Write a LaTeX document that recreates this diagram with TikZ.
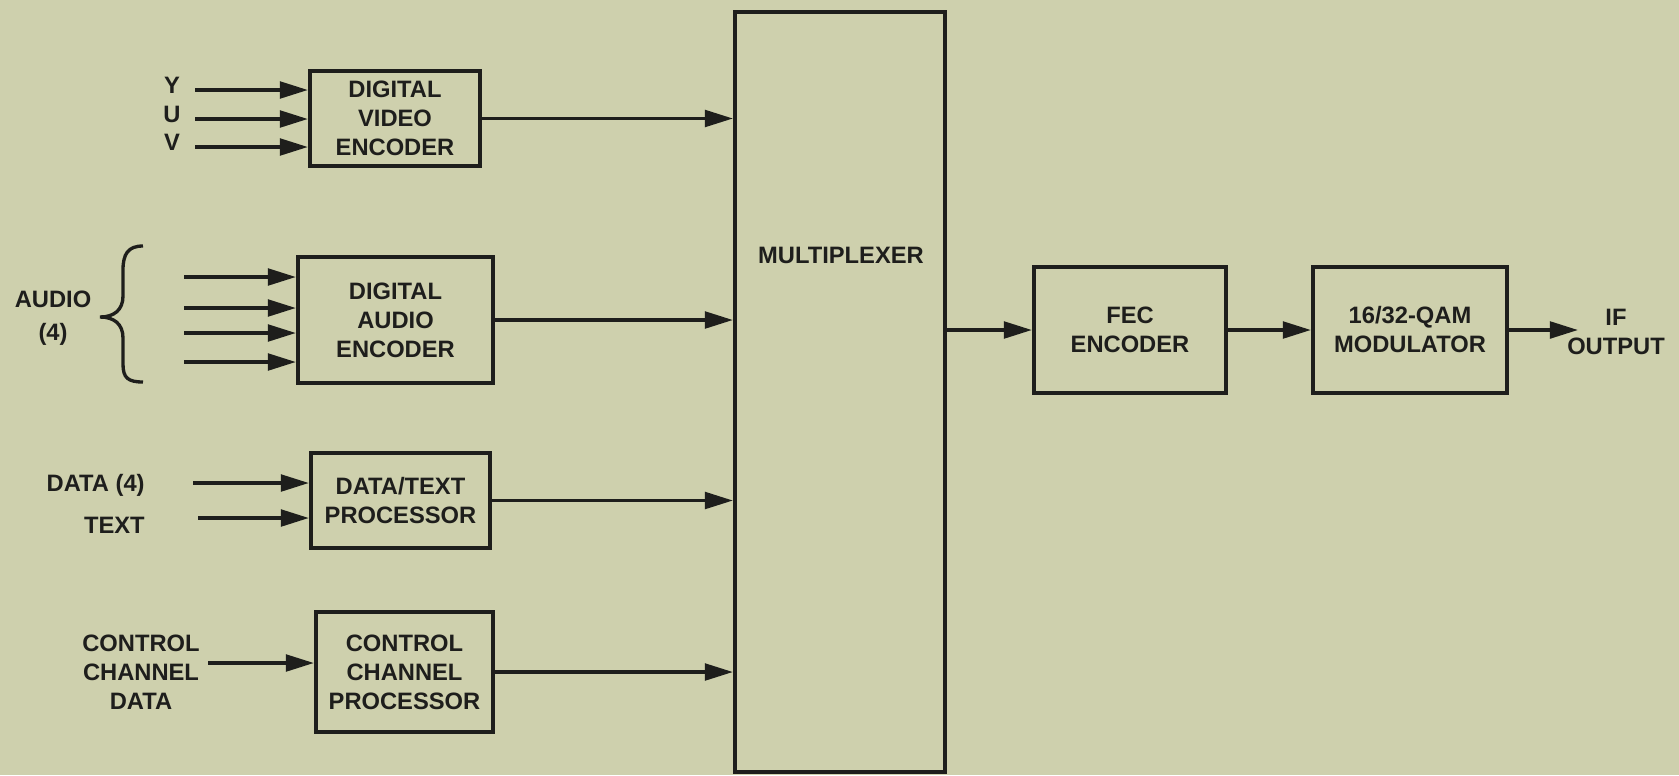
\documentclass[tikz,border=0pt]{standalone}
\usepackage{fontspec}
\setmainfont{Liberation Sans}
\usepackage{xcolor}
\usetikzlibrary{arrows.meta, positioning}
\definecolor{paper}{RGB}{206,208,173}
\definecolor{ink}{RGB}{30,30,28}

\begin{document}
\begin{tikzpicture}[
    x=0.02cm, y=-0.02cm,
    every node/.style={text=ink, font=\fontsize{13.5}{16.5}\selectfont\bfseries},
    blk/.style={draw=ink, line width=2.4pt, align=center, inner sep=0pt},
    lbl/.style={align=center, inner sep=0pt},
    arr/.style={draw=ink, line width=1.9pt, -{Triangle[length=16pt,width=9.5pt]}},
    brc/.style={draw=ink, line width=1.9pt}
  ]
  \useasboundingbox (0,0) rectangle (1679,775);
  \fill[paper] (0,0) rectangle (1679,775);

  % blocks
  \node[blk, minimum width=3.4cm, minimum height=1.9cm] (dve) at (395,118.5) {DIGITAL\\VIDEO\\ENCODER};
  \node[blk, minimum width=3.9cm, minimum height=2.52cm] (dae) at (395.5,320) {DIGITAL\\AUDIO\\ENCODER};
  \node[blk, minimum width=3.58cm, minimum height=1.9cm] (dtp) at (400.5,500.5) {DATA/TEXT\\PROCESSOR};
  \node[blk, minimum width=3.54cm, minimum height=2.4cm] (ccp) at (404.5,672) {CONTROL\\CHANNEL\\PROCESSOR};
  \node[blk, minimum width=4.2cm, minimum height=15.2cm] (mux) at (840,392) {};
  \node[lbl] (muxlbl) at (841,255) {MULTIPLEXER};
  \node[blk, minimum width=3.84cm, minimum height=2.52cm] (fec) at (1130,330) {FEC\\ENCODER};
  \node[blk, minimum width=3.88cm, minimum height=2.52cm] (qam) at (1410,330) {16/32-QAM\\MODULATOR};

  % video inputs
  \foreach \n/\t/\yy in {ys/Y/90, us/U/119, vs/V/147} {
    \coordinate (\n) at (195,\yy);
    \node[lbl] (\n lbl) at (172,\yy-4.5) {\t};
    \draw[arr] (\n) -- (\n -| dve.west);
  }

  % audio inputs
  \foreach \i/\yy in {1/277, 2/308, 3/333, 4/362} {
    \coordinate (as\i) at (184,\yy);
    \draw[arr] (as\i) -- (as\i -| dae.west);
  }
  \node[lbl] (audlbl) at (53,318) {AUDIO\\[2pt](4)};
  \draw[brc] (143,246) .. controls (128,246) and (123,254) .. (123,270) -- (123,296)
    .. controls (123,310) and (114,317) .. (100,317)
    .. controls (114,317) and (123,324) .. (123,338) -- (123,364)
    .. controls (123,378) and (128,382) .. (143,382);

  % data inputs
  \coordinate (ds) at (193,483);
  \coordinate (ts) at (198,518);
  \node[lbl, anchor=east] (dslbl) at (145,485) {DATA (4)};
  \node[lbl, anchor=east] (tslbl) at (145,525) {TEXT};
  \draw[arr] (ds) -- (ds -| dtp.west);
  \draw[arr] (ts) -- (ts -| dtp.west);

  % control input
  \coordinate (cs) at (208,663);
  \node[lbl] (cslbl) at (141,672) {CONTROL\\CHANNEL\\DATA};
  \draw[arr] (cs) -- (cs -| ccp.west);

  % into the multiplexer
  \foreach \b in {dve, dae, dtp, ccp}
    \draw[arr] (\b) -- (\b -| mux.west);

  % output chain
  \draw[arr] (mux.east |- fec) -- (fec);
  \draw[arr] (fec) -- (qam);
  \coordinate (ifend) at (1578,330);
  \draw[arr] (qam) -- (ifend);
  \node[lbl] (iflbl) at (1616,332) {IF\\OUTPUT};
\end{tikzpicture}
\end{document}
